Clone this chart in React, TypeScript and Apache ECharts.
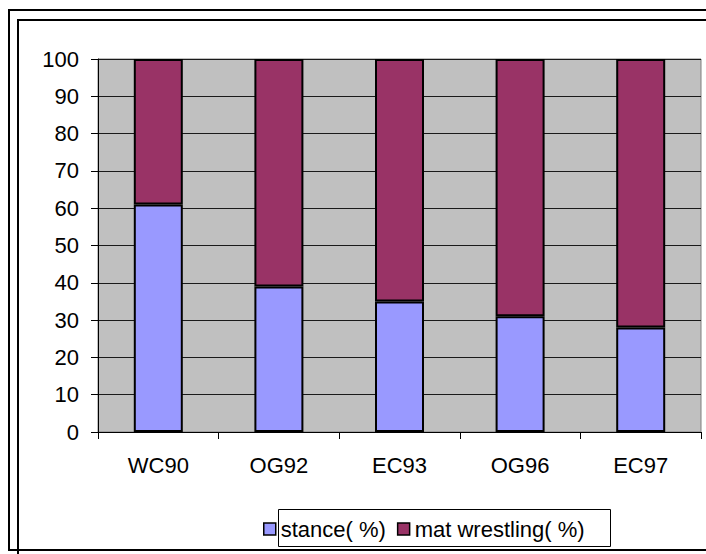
import React, { useEffect, useRef } from "react";
import * as echarts from "echarts";

const categories = ["WC90", "OG92", "EC93", "OG96", "EC97"];
const stance = [61, 39, 35, 31, 28];
const matWrestling = [39, 61, 65, 69, 72];
const seriesNames = ["stance( %)", "mat wrestling( %)"];
const yTicks = { min: 0, max: 100, interval: 10 };

const FONT = "'Liberation Sans', Arial, sans-serif";

export default function App() {
  const ref = useRef<HTMLDivElement>(null);
  useEffect(() => {
    if (!ref.current) return;
    const chart = echarts.init(ref.current, undefined, { renderer: "svg" });
    chart.setOption({
      animation: false,
      backgroundColor: "#ffffff",
      textStyle: { fontFamily: FONT },
      grid: {
        left: 98,
        top: 59,
        right: 5,
        bottom: 122,
        show: true,
        backgroundColor: "#C0C0C0",
        borderColor: "#808080",
        borderWidth: 1,
        containLabel: false,
        outerBoundsMode: "none",
      },
      graphic: [
        {
          type: "rect",
          silent: true,
          shape: { x: 9, y: 10, width: 720, height: 540 },
          style: { fill: "none", stroke: "#000", lineWidth: 2 },
          z: 100,
        },
        {
          type: "rect",
          silent: true,
          shape: { x: 18, y: 20, width: 720, height: 560 },
          style: { fill: "none", stroke: "#000", lineWidth: 2 },
          z: 100,
        },
        {
          type: "rect",
          silent: true,
          shape: { x: 278.5, y: 509.5, width: 332, height: 37 },
          style: { fill: "#fff", stroke: "#000", lineWidth: 1 },
          z: 1,
        },
      ],
      legend: {
        left: 263,
        top: 518,
        orient: "horizontal",
        itemWidth: 12,
        itemHeight: 12,
        itemGap: 11,
        icon: "rect",
        padding: 0,
        z: 50,
        data: seriesNames,
        textStyle: { fontSize: 22, color: "#000", fontFamily: FONT, lineHeight: 22 },
        itemStyle: { borderColor: "#000", borderWidth: 1.5 },
      },
      xAxis: {
        type: "category",
        data: categories,
        axisLine: { show: true, lineStyle: { color: "#000", width: 1 } },
        axisTick: { show: true, length: 7, lineStyle: { color: "#000" } },
        axisLabel: { fontSize: 22, color: "#000", margin: 22, fontFamily: FONT },
        splitLine: { show: false },
      },
      yAxis: {
        type: "value",
        min: yTicks.min,
        max: yTicks.max,
        interval: yTicks.interval,
        axisLine: { show: true, lineStyle: { color: "#000", width: 1 } },
        axisTick: { show: true, length: 7, lineStyle: { color: "#000" } },
        axisLabel: { fontSize: 22, color: "#000", margin: 19, fontFamily: FONT },
        splitLine: { show: true, lineStyle: { color: "#1a1a1a", width: 1 } },
      },
      series: [
        {
          name: seriesNames[0],
          type: "bar",
          stack: "total",
          data: stance,
          barWidth: 49,
          itemStyle: { color: "#9999FF", borderColor: "#000000", borderWidth: 2, borderType: "solid" },
        },
        {
          name: seriesNames[1],
          type: "bar",
          stack: "total",
          data: matWrestling,
          barWidth: 49,
          itemStyle: { color: "#993366", borderColor: "#000000", borderWidth: 2, borderType: "solid" },
        },
      ],
    });
    return () => chart.dispose();
  }, []);
  return (
    <div
      ref={ref}
      style={{ position: "fixed", left: 0, top: 0, width: 706, height: 554 }}
    />
  );
}
